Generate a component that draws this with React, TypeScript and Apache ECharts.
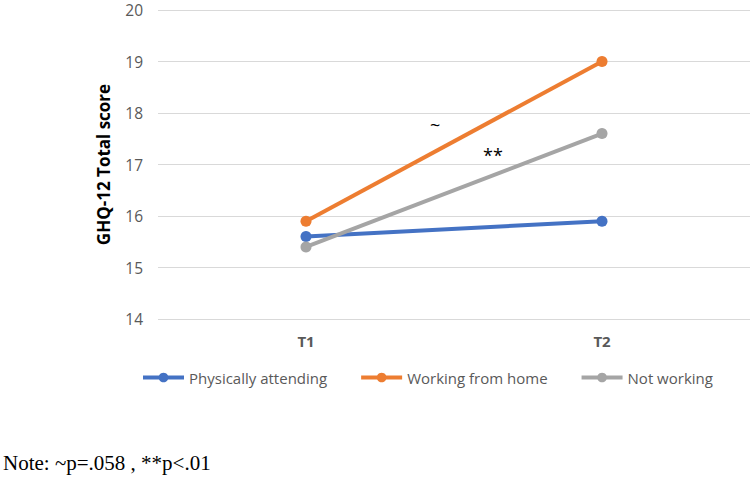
import React, { useEffect, useRef } from "react";
import * as echarts from "echarts";

const categories = ["T1", "T2"];
const physicallyAttending = [15.6, 15.9];
const workingFromHome = [15.9, 19.0];
const notWorking = [15.4, 17.6];
const seriesNames = ["Physically attending", "Working from home", "Not working"];
const colors = ["#4472C4", "#ED7D31", "#A5A5A5"];
const yMin = 14;
const yMax = 20;
const yInterval = 1;
const axisTitle = "GHQ-12 Total score";
const noteText = "Note: ~p=.058 , **p<.01";

export default function App() {
  const ref = useRef<HTMLDivElement>(null);
  useEffect(() => {
    if (!ref.current) return;
    const chart = echarts.init(ref.current, undefined, { renderer: "svg" });
    const font = "'Open Sans', sans-serif";
    const mk = (name: string, data: number[], color: string) => ({
      name,
      type: "line",
      data,
      color,
      symbol: "circle",
      symbolSize: 11,
      lineStyle: { width: 4, color },
      itemStyle: { color },
    });
    chart.setOption({
      animation: false,
      grid: { left: 158, right: 1, top: 10, bottom: 158, containLabel: false },
      xAxis: {
        type: "category",
        data: categories,
        axisLine: { show: false },
        axisTick: { show: false },
        axisLabel: { color: "#595959", fontWeight: "bold", fontSize: 15, fontFamily: font, margin: 14 },
      },
      yAxis: {
        type: "value",
        min: yMin,
        max: yMax,
        interval: yInterval,
        name: axisTitle,
        nameLocation: "middle",
        nameGap: 46,
        nameRotate: 90,
        nameTextStyle: { color: "#000", fontWeight: "bold", fontSize: 17, fontFamily: font },
        axisLine: { show: false },
        axisTick: { show: false },
        axisLabel: { color: "#595959", fontSize: 15.5, lineHeight: 15, fontFamily: font, margin: 15 },
        splitLine: { lineStyle: { color: "#D9D9D9", width: 1 } },
      },
      legend: {
        left: 141,
        top: 370,
        padding: 0,
        itemWidth: 41,
        itemHeight: 12,
        itemGap: 32,
        lineStyle: { width: 4 },
        textStyle: { color: "#595959", fontSize: 15, fontFamily: font },
        data: seriesNames,
      },
      graphic: [
        { type: "text", left: 430, top: 116, style: { text: "~", fontSize: 18, fill: "#000", fontFamily: font } },
        { type: "text", left: 483, top: 146, style: { text: "**", fontSize: 18, fill: "#000", fontFamily: font } },
        { type: "text", left: 3, top: 452, style: { text: noteText, fontSize: 21, fill: "#000", fontFamily: "'Liberation Serif', serif" } },
      ],
      series: [
        mk(seriesNames[0], physicallyAttending, colors[0]),
        mk(seriesNames[1], workingFromHome, colors[1]),
        mk(seriesNames[2], notWorking, colors[2]),
      ],
    });
    return () => chart.dispose();
  }, []);
  return <div ref={ref} style={{ position: "fixed", left: 0, top: 0, width: 751, height: 477, background: "#fff" }} />;
}
